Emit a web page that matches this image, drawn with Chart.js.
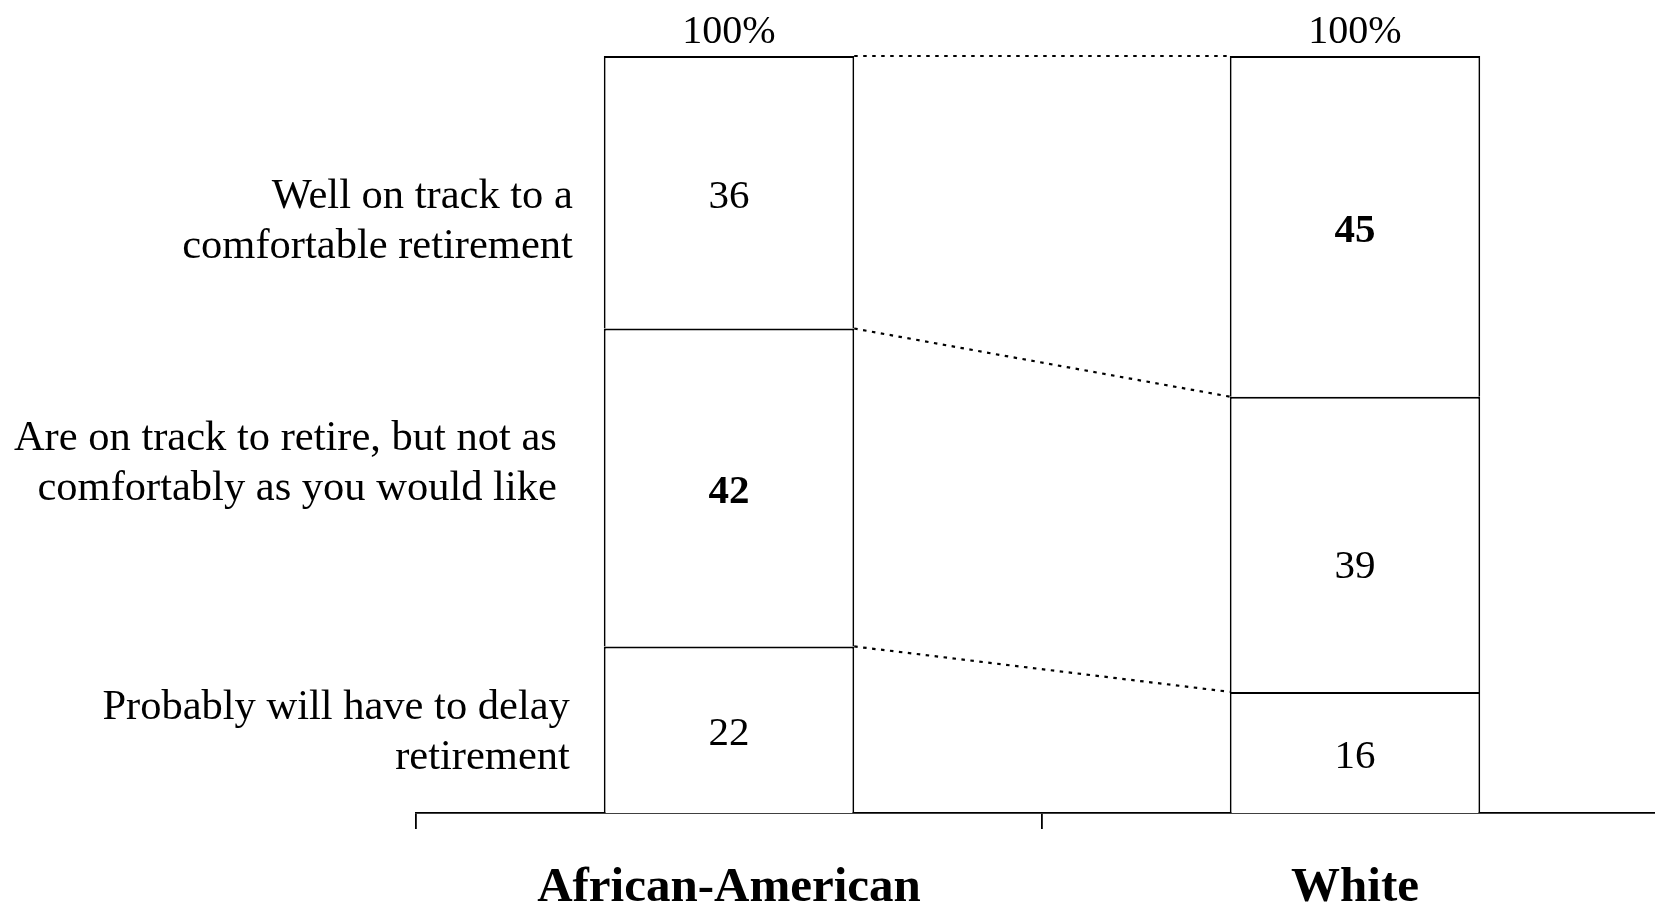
<!DOCTYPE html>
<html lang="en">
<head>
    <meta charset="UTF-8">
    <title>Retirement outlook by race</title>
    <script src="https://cdn.jsdelivr.net/npm/chart.js"></script>
    <style>
        html, body { margin: 0; padding: 0; background: #fff; overflow: hidden; }
        canvas { display: block; }
    </style>
</head>
<body>
    <canvas id="chart" width="1668" height="907"></canvas>

    <script>
        // data, bottom segment first
        const groups = ['African-American', 'White'];
        const delayRetirement = [22, 16];
        const onTrackNotComfortable = [42, 39];
        const wellOnTrack = [36, 45];
        const totalLabel = '100%';

        // row captions on the left, same order as the segments
        const rowCaptions = [
            ['Probably will have to delay', 'retirement'],
            ['Are on track to retire, but not as', 'comfortably as you would like'],
            ['Well on track to a', 'comfortable retirement']
        ];

        const SERIF = '"Liberation Serif", "Times New Roman", serif';

        // draws the numbers, the 100% tops, the dotted links and the row captions
        const annotate = {
            id: 'annotate',
            afterDatasetsDraw(chart, args, opts) {
                const ctx = chart.ctx;
                const n = chart.data.datasets.length;
                const metas = chart.data.datasets.map((d, i) => chart.getDatasetMeta(i));
                ctx.save();
                ctx.fillStyle = '#000';
                ctx.textAlign = 'center';
                ctx.textBaseline = 'middle';

                // segment values, largest in each column in bold
                groups.forEach((g, j) => {
                    const col = chart.data.datasets.map(d => d.data[j]);
                    const top = Math.max(...col);
                    metas.forEach((m, i) => {
                        const el = m.data[j];
                        const v = chart.data.datasets[i].data[j];
                        const nudge = (opts.nudge[i] || [])[j] || 0;
                        ctx.font = (v === top ? 'bold ' : '') + '41px ' + SERIF;
                        ctx.fillText(String(v), el.x, (el.y + el.base) / 2 + 5 + nudge);
                    });
                    const last = metas[n - 1].data[j];
                    ctx.font = '40px ' + SERIF;
                    ctx.fillText(totalLabel, last.x, last.y - 24);
                });

                // dotted connectors between the two columns
                ctx.strokeStyle = '#000';
                ctx.lineWidth = 2.2;
                ctx.setLineDash([3.5, 5.5]);
                metas.forEach(m => {
                    const a = m.data[0], b = m.data[1];
                    ctx.beginPath();
                    ctx.moveTo(a.x + a.width / 2, a.y);
                    ctx.lineTo(b.x - b.width / 2, b.y);
                    ctx.stroke();
                });
                ctx.setLineDash([]);

                // row captions, right aligned left of the first column
                const y = chart.scales.y;
                const first = metas[0].data[0];
                const left = first.x - first.width / 2;
                ctx.textAlign = 'right';
                ctx.font = '42.5px ' + SERIF;
                rowCaptions.forEach((lines, i) => {
                    const cy = y.getPixelForValue(opts.at[i]);
                    const x = left - opts.gap[i];
                    lines.forEach((t, k) => {
                        ctx.fillText(t, x, cy + (k - (lines.length - 1) / 2) * opts.lineHeight + 3);
                    });
                });
                ctx.restore();
            }
        };

        const segment = (data) => ({
            data: data,
            backgroundColor: '#fff',
            borderColor: '#000',
            borderWidth: { top: 2, left: 1.8, right: 1.8, bottom: 0 },
            borderSkipped: 'start',
            barPercentage: 0.4,
            categoryPercentage: 1
        });

        const ctx = document.getElementById('chart').getContext('2d');
        new Chart(ctx, {
            type: 'bar',
            data: {
                labels: groups,
                datasets: [
                    segment(delayRetirement),
                    segment(onTrackNotComfortable),
                    segment(wellOnTrack)
                ]
            },
            options: {
                responsive: false,
                animation: false,
                layout: { padding: { left: 416, top: 56, right: 0, bottom: 0 } },
                plugins: {
                    legend: { display: false },
                    tooltip: { enabled: false },
                    annotate: {
                        at: [11, 46.5, 78.5],
                        gap: [34, 47, 31],
                        lineHeight: 50,
                        nudge: [[], [0, 18], []]
                    }
                },
                scales: {
                    x: {
                        stacked: true,
                        grid: {
                            display: true,
                            drawOnChartArea: false,
                            drawTicks: true,
                            tickLength: 16,
                            color: '#000',
                            lineWidth: 1.8,
                            offset: true
                        },
                        border: { display: true, color: '#000', width: 1.8 },
                        ticks: {
                            color: '#000',
                            padding: 30,
                            maxRotation: 0,
                            font: { family: SERIF, size: 49, weight: 'bold' }
                        },
                        afterFit(scale) { scale.height = 94; }
                    },
                    y: {
                        stacked: true,
                        display: false,
                        min: 0,
                        max: 100
                    }
                }
            },
            plugins: [annotate]
        });
    </script>
</body>
</html>
